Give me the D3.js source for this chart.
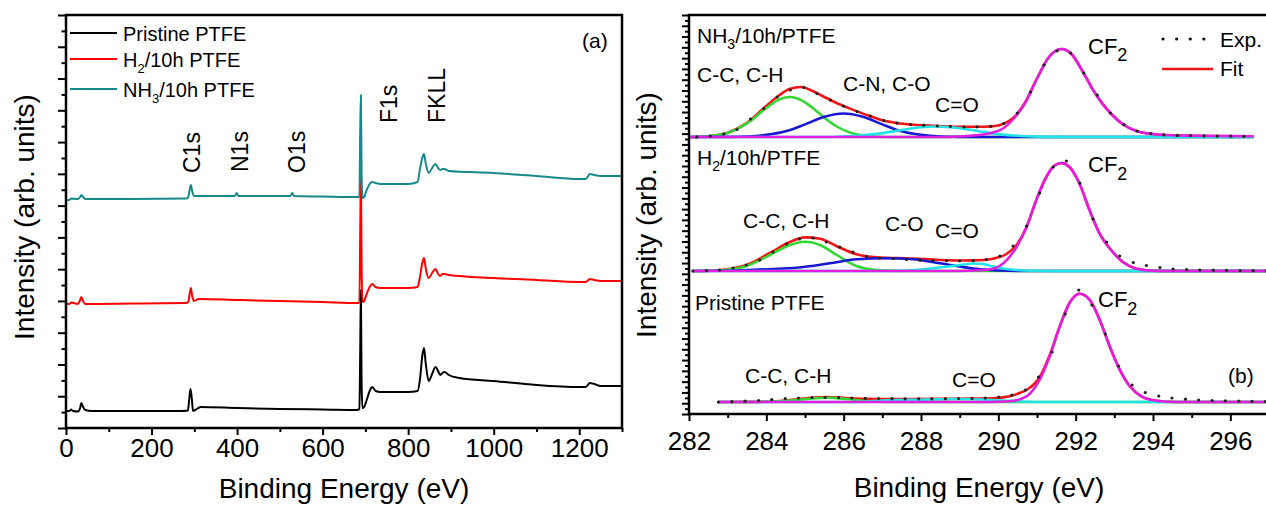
<!DOCTYPE html>
<html>
<head>
<meta charset="utf-8">
<script src="https://cdn.jsdelivr.net/npm/d3@7"></script>
<style>
  body { margin: 0; background: #fff; }
  svg { display: block; font-family: "Liberation Sans", Arial, sans-serif; }
</style>
</head>
<body>
<svg id="chart" width="1266" height="506"></svg>
<script>
// ---- survey spectra (panel a): [binding energy eV, intensity arb.] ----
const pristineSurvey = [[0,17],[8,17],[12,18.5],[16,17],[28,16.5],[33,20],[36,25],[40,21],[45,18],[60,17],[150,17],[270,17],[285,17.5],[288,28],[291,39],[294,30],[297,17],[302,18],[315,21],[400,20],[500,19],[600,18.5],[680,18],[686,19],[688,80],[689.5,138],[691,50],[693,20],[697,21],[703,28],[710,37],[716,41],[724,37],[735,36],[760,36],[800,36],[822,37],[828,50],[833,72],[837,80],[841,65],[848,47],[856,54],[864,61],[870,57],[875,53],[880,55],[885,56],[895,53],[920,50],[1000,47],[1100,43],[1200,41],[1215,41],[1225,45],[1235,44],[1250,42],[1300,42]]
const h2Survey = [[0,124],[8,124],[12,125.5],[28,124],[33,128],[36,131],[40,127],[45,124],[150,124.5],[280,125],[286,126],[289,134],[292,140],[295,132],[299,127],[310,129],[400,128],[500,127],[600,126],[680,125],[686,125],[688,200],[689.5,255],[691,170],[693,126],[697,127],[703,134],[710,141],[716,144],[724,141],[735,140],[800,140],[822,141],[828,152],[833,165],[837,170],[841,160],[848,150],[856,155],[864,159],[870,154],[875,152],[880,154],[885,154],[895,153],[1000,150],[1100,148],[1200,146],[1215,146],[1225,149],[1235,148],[1250,147],[1300,147]]
const nh3Survey = [[0,228],[8,228],[12,229.5],[28,229],[33,231],[36,233],[40,231],[45,229],[150,229],[282,229.5],[286,231],[289,238],[292,243],[295,237],[299,232],[310,232],[395,232],[399,235],[403,232],[525,232],[529,235],[533,232],[600,231.5],[680,231],[686,231],[688,300],[689.5,333],[691,260],[693,230],[697,231],[703,238],[710,244],[716,246],[724,245],[735,244],[800,244],[822,246],[828,260],[833,270],[837,274],[841,265],[848,255],[856,260],[864,264],[870,260],[875,258],[880,259],[885,259],[895,257],[1000,255],[1100,252],[1200,249],[1215,249],[1225,254],[1235,253],[1250,252],[1300,252]]
const surveyNames = ["Pristine PTFE", "H2/10h PTFE", "NH3/10h PTFE"]
const surveyTicks = [0, 200, 400, 600, 800, 1000, 1200]
const surveyPeaks = ["C1s", "N1s", "O1s", "F1s", "FKLL"]

// ---- C1s high resolution (panel b): heights above each spectrum's offset ----
const nh3Offset = 277
const nh3Fit = [[282.03,0],[282.5,0.8],[283.0,4.2],[283.5,14.1],[284.0,31.1],[284.3,40.8],[284.6,48],[284.9,50],[285.2,46],[285.5,40],[285.8,34.3],[286.1,29.4],[286.4,24.9],[286.7,20.7],[287.0,16.7],[287.4,13.8],[287.8,12.2],[288.2,11.5],[288.6,10.8],[289.0,10.2],[289.43,10.2],[289.86,10.8],[290.12,13],[290.4,19.5],[290.7,35],[291.0,58.5],[291.3,79.5],[291.63,88],[291.89,83],[292.19,65],[292.45,47],[292.92,23],[293.22,12.7],[293.57,6],[294.17,2.3],[294.9,1.3],[296.6,0.7]]
const nh3CC = [[282.03,0],[282.5,0.8],[283.0,4.1],[283.5,13.6],[284.0,29],[284.3,36.8],[284.6,40],[284.9,36.8],[285.2,29],[285.5,19.3],[285.8,11],[286.1,5.4],[286.4,2.2],[286.8,0.5],[287.3,0],[296.6,0]]
const nh3CN = [[282.03,0],[283.0,0.1],[283.5,0.5],[284.0,2.1],[284.5,5.7],[285.0,12.6],[285.5,20.2],[286.0,23.5],[286.5,20.2],[287.0,12.6],[287.5,5.7],[288.0,2.1],[288.5,0.5],[289.0,0.1],[289.5,0],[296.6,0]]
const nh3CO = [[282.03,0],[285.5,0],[286.0,0.6],[286.5,1.7],[287.0,3.9],[287.5,7.0],[288.0,9.7],[288.4,10.5],[289.0,8.8],[289.5,5.8],[290.0,2.9],[290.5,1.2],[291.0,0.4],[291.5,0.1],[292.0,0],[296.6,0]]
const nh3CF2 = [[282.03,0],[288.5,0],[289.0,0.5],[289.43,1.7],[289.86,4.5],[290.12,8.5],[290.4,18.5],[290.7,34.5],[291.0,58.5],[291.3,79.5],[291.63,88],[291.89,83],[292.19,65],[292.45,47],[292.92,23],[293.22,12.7],[293.57,6],[294.17,2.3],[294.9,1.3],[296.6,0.7]]
const nh3Exp = [[282.2,0.1],[282.55,1],[282.9,3],[283.24,7.5],[283.59,18],[283.93,28.5],[284.28,40],[284.62,47],[284.97,49.5],[285.31,43.5],[285.66,37],[286.0,31],[286.35,25.5],[286.69,21],[287.04,16.5],[287.38,14],[287.73,12.5],[288.07,11.8],[288.42,11],[288.76,10.6],[289.11,10.2],[289.45,10.2],[289.8,10.6],[290.14,13.5],[290.49,24],[290.83,45],[291.18,72],[291.52,86],[291.87,84],[292.21,64],[292.56,42],[292.9,24],[293.25,12.5],[293.59,6],[293.94,3.5],[294.28,2.2],[294.63,1.6],[294.97,1.3],[295.32,1.1],[295.66,0.9],[296.01,0.8],[296.35,0.7]]

const h2Offset = 143
const h2Fit = [[282.1,0],[282.5,0.3],[282.89,1.3],[283.49,6],[284.09,18],[284.61,29],[285.0,33.6],[285.39,32.3],[285.82,24.8],[286.33,16.7],[286.85,13.6],[287.4,12.9],[287.8,12.5],[288.31,11.5],[288.7,10.8],[289.0,10.5],[289.35,10.6],[289.6,11],[289.86,12.3],[290.21,17],[290.47,26],[290.73,44],[290.98,70.7],[291.24,94],[291.46,105.7],[291.63,108],[291.84,104],[292.1,87.3],[292.36,60.7],[292.62,37.3],[292.92,20.7],[293.22,9],[293.57,2.3],[294.0,0.3],[294.5,0],[297,0]]
const h2CC = [[282.1,0],[282.5,0.2],[282.89,1],[283.49,5],[284.09,16],[284.61,26],[285.0,29.3],[285.39,26],[285.82,16],[286.33,5],[286.85,1],[287.4,0.1],[288.0,0],[297,0]]
const h2CO = [[282.1,0],[282.8,0.2],[283.49,1],[284.2,2],[284.78,3.3],[285.64,7.7],[286.33,11.7],[287.11,12.7],[287.8,11.7],[288.49,7.7],[289.0,4.5],[289.52,1.7],[290.03,0.5],[290.6,0],[297,0]]
const h2CdO = [[282.1,0],[287.0,0],[287.5,0.3],[288.0,1.5],[288.31,2.7],[288.7,4.5],[289.0,6],[289.35,7.5],[289.6,7],[289.86,4.5],[290.2,2],[290.55,0.8],[291.0,0.2],[291.5,0],[297,0]]
const h2CF2 = [[282.1,0],[289.0,0],[289.52,0.7],[289.86,2.3],[290.21,10.7],[290.47,24],[290.73,44],[290.98,70.7],[291.24,94],[291.46,105.7],[291.63,108],[291.84,104],[292.1,87.3],[292.36,60.7],[292.62,37.3],[292.92,20.7],[293.22,9],[293.57,2.3],[294.0,0.3],[294.5,0],[297,0]]
const h2Exp = [[282.1,0],[282.45,0.3],[282.79,1],[283.14,3],[283.48,6],[283.83,11],[284.17,19],[284.52,27],[284.86,32],[285.21,33],[285.55,29],[285.9,24],[286.24,19],[286.59,14.5],[286.93,13],[287.28,12.5],[287.62,11.5],[287.97,10.8],[288.31,10.5],[288.66,10.3],[289.0,10.2],[289.35,10.3],[289.69,11.5],[290.04,15],[290.38,25],[290.73,45],[291.07,78],[291.42,104],[291.76,110],[292.11,88],[292.45,52],[292.8,29],[293.14,15],[293.49,8.5],[293.83,5.5],[294.18,3.5],[294.52,2],[294.87,1.4],[295.21,1],[295.56,0.8],[295.9,0.7],[296.25,0.4],[296.59,0.3],[296.94,0.3]]

const pristineOffset = 12
const pristineFit = [[282.76,0],[283.6,0.1],[284.35,1],[285.04,3.7],[285.56,5],[286.07,4],[286.59,3.2],[287.11,3],[287.8,3],[288.4,3.1],[289.0,3.3],[289.86,3.7],[290.29,5.7],[290.55,9],[290.73,12],[291.07,25],[291.33,47],[291.59,75.7],[291.84,99],[292.1,108.3],[292.36,102.3],[292.62,82.3],[292.88,55.7],[293.14,32.3],[293.4,15.7],[293.7,5.7],[294.09,1.3],[294.6,0],[297,0]]
const pristineCC = [[282.76,0],[283.6,0],[284.35,0.7],[285.04,3],[285.56,4.3],[286.07,3],[286.59,1],[287.2,0],[297,0]]
const pristineCdO = [[282.76,0],[286.3,0],[287.11,1.7],[287.97,2.3],[289.0,3],[289.6,2.5],[290.2,1.2],[290.73,0.3],[291.2,0],[297,0]]
const pristineCF2 = [[282.76,0],[289.8,0],[290.29,0.7],[290.73,5.7],[291.07,22.3],[291.33,45.7],[291.59,75.7],[291.84,99],[292.1,108.3],[292.36,102.3],[292.62,82.3],[292.88,55.7],[293.14,32.3],[293.4,15.7],[293.7,5.7],[294.09,1.3],[294.6,0],[297,0]]
const pristineExp = [[282.76,0],[283.11,0.3],[283.45,0.8],[283.8,1.5],[284.14,2.5],[284.49,3.5],[284.83,4],[285.18,4.5],[285.52,4.5],[285.87,4.3],[286.21,4],[286.56,3.7],[286.9,3.5],[287.25,3.3],[287.59,3.2],[287.94,3.2],[288.28,3.2],[288.63,3.3],[288.97,3.4],[289.32,3.6],[289.66,4],[290.01,5],[290.35,7],[290.7,12],[291.04,25],[291.39,50],[291.73,88],[292.08,112],[292.42,97],[292.77,68],[293.11,36],[293.46,17],[293.8,9.5],[294.15,6],[294.49,4],[294.84,2.8],[295.18,2],[295.53,1.5],[295.87,1.2],[296.22,0.9],[296.56,0.7],[296.91,0.5]]
const c1sTicks = [282, 284, 286, 288, 290, 292, 294, 296]

const svg = d3.select("#chart")
const font = 26

// ================= panel (a) =================
const xL = d3.scaleLinear().domain([0, 1300]).range([66, 622])
const yL = d3.scaleLinear().domain([0, 413]).range([428, 15])
const lineL = d3.line().x(d => xL(d[0])).y(d => yL(d[1])).curve(d3.curveMonotoneX)

const surveyColors = ["#000000", "#ff0000", "#16898a"]
const surveys = [pristineSurvey, h2Survey, nh3Survey]

svg.append("g").selectAll("path")
  .data(surveys)
  .join("path")
  .attr("d", lineL)
  .attr("fill", "none")
  .attr("stroke", (d, i) => surveyColors[i])
  .attr("stroke-width", 2)

const styleAxis = (g, fs) => {
  g.select(".domain").remove()
  g.selectAll("line").attr("stroke", "#000").attr("stroke-width", 2)
  g.selectAll("text").attr("fill", "#000").style("font-size", fs + "px")
    .style("font-family", '"Liberation Sans", Arial, sans-serif')
}

svg.append("g").attr("transform", `translate(0,${yL(0)})`)
  .call(d3.axisBottom(xL).tickValues(surveyTicks).tickFormat(d3.format("d")).tickSize(7).tickPadding(3.5))
  .call(g => styleAxis(g, font))
svg.append("g").attr("transform", `translate(0,${yL(0)})`)
  .call(d3.axisBottom(xL).tickValues(d3.range(100, 1301, 200)).tickSize(4).tickFormat(""))
  .call(g => styleAxis(g, font))

const leftTicks = d3.range(27).map(i => i * 413 / 26)
svg.append("g").attr("transform", `translate(${xL(0)},0)`)
  .call(d3.axisLeft(yL).tickValues(leftTicks.filter((d, i) => i % 2 === 0)).tickSize(8).tickFormat(""))
  .call(g => styleAxis(g, font))
svg.append("g").attr("transform", `translate(${xL(0)},0)`)
  .call(d3.axisLeft(yL).tickValues(leftTicks.filter((d, i) => i % 2 === 1)).tickSize(4.5).tickFormat(""))
  .call(g => styleAxis(g, font))

svg.append("rect")
  .attr("x", xL(0)).attr("y", yL(413))
  .attr("width", xL(1300) - xL(0)).attr("height", yL(0) - yL(413))
  .attr("fill", "none").attr("stroke", "#000").attr("stroke-width", 2.5)

// legend (a)
const legA = svg.append("g")
const legRows = [33, 59, 89]
surveyNames.forEach((name, i) => {
  legA.append("line").attr("x1", 70).attr("x2", 117).attr("y1", legRows[i]).attr("y2", legRows[i])
    .attr("stroke", surveyColors[i]).attr("stroke-width", 2)
  const t = legA.append("text").attr("x", 123).attr("y", legRows[i] + 8).style("font-size", "20px")
  const m = name.match(/^([A-Za-z]+)(\d)(\/.*)$/)
  if (m) {
    t.append("tspan").text(m[1])
    t.append("tspan").attr("dy", 6).style("font-size", "13px").text(m[2])
    t.append("tspan").attr("dy", -6).text(m[3])
  } else {
    t.text(name)
  }
})

// peak labels (a)
const peakLabelPos = [[200, 173], [248, 172], [305, 173], [397, 123], [445, 123]]
svg.append("g").selectAll("text")
  .data(surveyPeaks)
  .join("text")
  .attr("transform", (d, i) => `translate(${peakLabelPos[i][0]},${peakLabelPos[i][1]}) rotate(-90)`)
  .style("font-size", "23px")
  .text(d => d)

svg.append("text").attr("x", 582).attr("y", 48).style("font-size", "21px").text("(a)")

svg.append("text").attr("transform", "translate(34,217) rotate(-90)")
  .attr("text-anchor", "middle").style("font-size", "28px").text("Intensity (arb. units)")
svg.append("text").attr("x", (xL(0) + xL(1300)) / 2).attr("y", 498)
  .attr("text-anchor", "middle").style("font-size", "28px").text("Binding Energy (eV)")

// ================= panel (b) =================
const xR = d3.scaleLinear().domain([282, 297]).range([689, 1269])
const yR = d3.scaleLinear().domain([0, 399]).range([414, 15])

const spectra = [
  { offset: nh3Offset, fit: nh3Fit, parts: [nh3CC, nh3CN, nh3CO, nh3CF2], exp: nh3Exp },
  { offset: h2Offset, fit: h2Fit, parts: [h2CC, h2CO, h2CdO, h2CF2], exp: h2Exp },
  { offset: pristineOffset, fit: pristineFit, parts: [pristineCC, null, pristineCdO, pristineCF2], exp: pristineExp },
]
const partColors = ["#33d633", "#1818d2", "#22e3e8", "#e01fe0"]
const fitColor = "#f01414"

const clip = svg.append("clipPath").attr("id", "clipB")
clip.append("rect").attr("x", xR(282)).attr("y", yR(399)).attr("width", xR(297) - xR(282)).attr("height", yR(0) - yR(399))
const plotB = svg.append("g").attr("clip-path", "url(#clipB)")

spectra.forEach(s => {
  const line = d3.line().x(d => xR(d[0])).y(d => yR(d[1] + s.offset)).curve(d3.curveMonotoneX)
  plotB.append("path").attr("d", line(s.fit)).attr("fill", "none")
    .attr("stroke", fitColor).attr("stroke-width", 2.6)
  s.parts.forEach((p, i) => {
    if (!p) return
    plotB.append("path").attr("d", line(p)).attr("fill", "none")
      .attr("stroke", partColors[i]).attr("stroke-width", 2.6)
  })
  plotB.append("g").selectAll("circle")
    .data(s.exp)
    .join("circle")
    .attr("cx", d => xR(d[0]))
    .attr("cy", d => yR(d[1] + s.offset))
    .attr("r", 1.6)
    .attr("fill", "#222")
})

svg.append("g").attr("transform", `translate(0,${yR(0)})`)
  .call(d3.axisBottom(xR).tickValues(c1sTicks).tickSize(7).tickPadding(10.5))
  .call(g => styleAxis(g, font))
svg.append("g").attr("transform", `translate(0,${yR(0)})`)
  .call(d3.axisBottom(xR).tickValues(d3.range(283, 297, 2)).tickSize(4).tickFormat(""))
  .call(g => styleAxis(g, font))

const rightTicks = d3.range(75).map(i => i * 399 / 74)
svg.append("g").attr("transform", `translate(${xR(282)},0)`)
  .call(d3.axisLeft(yR).tickValues(rightTicks.filter((d, i) => i % 2 === 0)).tickSize(7).tickFormat(""))
  .call(g => styleAxis(g, font))
svg.append("g").attr("transform", `translate(${xR(282)},0)`)
  .call(d3.axisLeft(yR).tickValues(rightTicks.filter((d, i) => i % 2 === 1)).tickSize(4).tickFormat(""))
  .call(g => styleAxis(g, font))

svg.append("rect")
  .attr("x", xR(282)).attr("y", yR(399))
  .attr("width", xR(297) - xR(282)).attr("height", yR(0) - yR(399))
  .attr("fill", "none").attr("stroke", "#000").attr("stroke-width", 2.5)

// labels (b)
const addSubText = (x, y, parts, size, subSize, dy) => {
  const t = svg.append("text").attr("x", x).attr("y", y).style("font-size", size + "px")
  parts.forEach((p, i) => {
    const ts = t.append("tspan").text(p)
    if (i % 2 === 1) ts.attr("dy", dy).style("font-size", subSize + "px")
    else if (i > 0) ts.attr("dy", -dy)
  })
  return t
}
addSubText(697, 43, ["NH", "3", "/10h/PTFE"], 21, 14, 6)
addSubText(697, 165, ["H", "2", "/10h/PTFE"], 21, 14, 6)
addSubText(695, 310, ["Pristine PTFE"], 21, 14, 6)

addSubText(697, 82, ["C-C, C-H"], 21, 14, 6)
addSubText(843, 91, ["C-N, C-O"], 21, 14, 6)
addSubText(935, 112, ["C=O"], 21, 14, 6)
addSubText(743, 228, ["C-C, C-H"], 21, 14, 6)
addSubText(885, 231, ["C-O"], 21, 14, 6)
addSubText(935, 238, ["C=O"], 21, 14, 6)
addSubText(745, 383, ["C-C, C-H"], 21, 14, 6)
addSubText(952, 387, ["C=O"], 21, 14, 6)

addSubText(1088, 54, ["CF", "2"], 22, 18, 7)
addSubText(1088, 172, ["CF", "2"], 22, 18, 8)
addSubText(1098, 307, ["CF", "2"], 22, 18, 8)
addSubText(1228, 383, ["(b)"], 21, 14, 6)

// legend (b)
svg.append("line").attr("x1", 1163).attr("x2", 1206).attr("y1", 39).attr("y2", 39)
  .attr("stroke", "#111").attr("stroke-width", 3.2).attr("stroke-linecap", "round")
  .attr("stroke-dasharray", "0.1 13.5")
svg.append("text").attr("x", 1220).attr("y", 47).style("font-size", "21px").text("Exp.")
svg.append("line").attr("x1", 1162).attr("x2", 1213).attr("y1", 69).attr("y2", 69)
  .attr("stroke", fitColor).attr("stroke-width", 2.6)
svg.append("text").attr("x", 1220).attr("y", 76).style("font-size", "21px").text("Fit")

svg.append("text").attr("transform", "translate(656,215) rotate(-90)")
  .attr("text-anchor", "middle").style("font-size", "28px").text("Intensity (arb. units)")
svg.append("text").attr("x", (xR(282) + xR(297)) / 2).attr("y", 497)
  .attr("text-anchor", "middle").style("font-size", "28px").text("Binding Energy (eV)")
</script>
</body>
</html>
